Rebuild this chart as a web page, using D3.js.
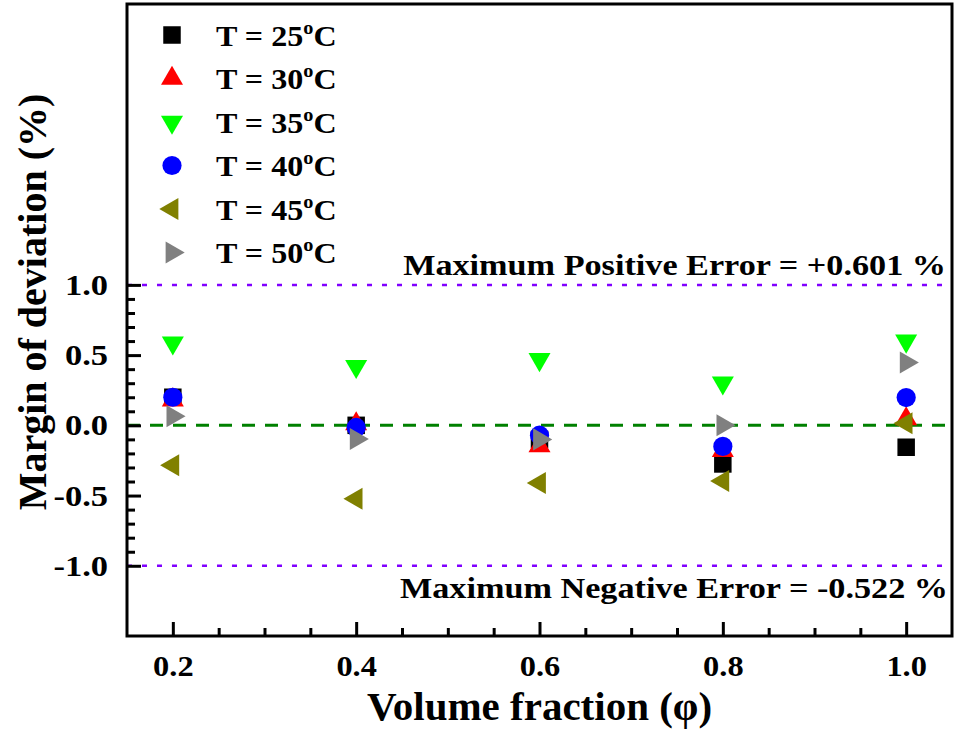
<!DOCTYPE html>
<html>
<head>
<meta charset="utf-8">
<script src="https://cdn.jsdelivr.net/npm/d3@7"></script>
<style>
  html, body { margin: 0; padding: 0; background: #ffffff; }
  svg { display: block; }
  text { font-family: "Liberation Serif", "Times New Roman", serif; font-weight: bold; fill: #000; }
</style>
</head>
<body>
<svg id="chart" width="955" height="734"></svg>
<script>
// Volume fraction on the x axis
const volumeFraction = [0.2, 0.4, 0.6, 0.8, 1.0];

// Margin of deviation (%) at each temperature
const dev25 = [0.20, 0.00, -0.10, -0.275, -0.156];
const dev30 = [0.18, 0.01, -0.147, -0.18, 0.045];
const dev35 = [0.588, 0.42, 0.469, 0.303, 0.601];
const dev40 = [0.20, -0.015, -0.07, -0.15, 0.198];
const dev45 = [-0.285, -0.522, -0.41, -0.396, 0.015];
const dev50 = [0.064, -0.097, -0.10, 0.0, 0.447];

const seriesLabels = ["25", "30", "35", "40", "45", "50"];
const seriesValues = [dev25, dev30, dev35, dev40, dev45, dev50];
const seriesColors = ["#000000", "#ff0000", "#00ff00", "#0000ff", "#808000", "#808080"];
const seriesShapes = ["square", "up", "down", "circle", "left", "right"];

const xTickValues = [0.2, 0.4, 0.6, 0.8, 1.0];
const xMinorTicks = [0.25, 0.3, 0.35, 0.45, 0.5, 0.55, 0.65, 0.7, 0.75, 0.85, 0.9, 0.95];
const yTickValues = [-1.0, -0.5, 0.0, 0.5, 1.0];
const yMinorTicks = [-0.9, -0.8, -0.7, -0.6, -0.4, -0.3, -0.2, -0.1, 0.1, 0.2, 0.3, 0.4, 0.6, 0.7, 0.8, 0.9];

const maxPositiveError = 0.601;
const maxNegativeError = -0.522;

const svg = d3.select("#chart");
const plot = { left: 127, right: 952, top: 4, bottom: 636 };

// wide-set lettering for labels
const wide = 1.14;

const x = d3.scaleLinear().domain([0.15, 1.05]).range([plot.left, plot.right]);
const y = d3.scaleLinear().domain([-1.5, 3.0]).range([plot.bottom, plot.top]);

// reference lines: error bounds and zero
[1.0, -1.0].forEach(v => {
  svg.append("line")
    .attr("x1", plot.left).attr("x2", plot.right)
    .attr("y1", y(v)).attr("y2", y(v))
    .attr("stroke", "#8000ff").attr("stroke-width", 2.5).attr("stroke-dasharray", "5,10");
});
svg.append("line")
  .attr("x1", plot.left).attr("x2", plot.right)
  .attr("y1", y(0)).attr("y2", y(0))
  .attr("stroke", "#008000").attr("stroke-width", 3).attr("stroke-dasharray", "13,10");

// marker shapes
function symbolPath(shape) {
  if (shape === "square") return d3.symbol(d3.symbolSquare, 17.5 * 17.5)();
  if (shape === "circle") return d3.symbol(d3.symbolCircle, Math.PI * 9.6 * 9.6)();
  return d3.symbol(d3.symbolTriangle, 210)();
}
function symbolRotate(shape) {
  return { up: 0, down: 180, left: -90, right: 90 }[shape] || 0;
}

// data markers
seriesValues.forEach((vals, i) => {
  svg.append("g")
    .selectAll("path")
    .data(vals.map((v, j) => ({ xv: volumeFraction[j], yv: v })))
    .join("path")
    .attr("d", symbolPath(seriesShapes[i]))
    .attr("transform", d => `translate(${x(d.xv)},${y(d.yv)}) rotate(${symbolRotate(seriesShapes[i])})`)
    .attr("fill", seriesColors[i]);
});

// axes with inward ticks
const axisStyle = g => {
  g.select(".domain").remove();
  g.selectAll(".tick line").attr("stroke", "#000").attr("stroke-width", 3);
  g.selectAll("text").attr("font-size", 30).attr("font-family", "Liberation Serif, serif").attr("font-weight", "bold");
};

svg.append("g")
  .attr("transform", `translate(0,${plot.bottom})`)
  .call(d3.axisBottom(x).tickValues(xMinorTicks).tickSize(-8).tickFormat(""))
  .call(axisStyle);
svg.append("g")
  .attr("transform", `translate(0,${plot.bottom})`)
  .call(d3.axisBottom(x).tickValues(xTickValues).tickSize(-14).tickPadding(19)
    .tickFormat(d3.format(".1f")))
  .call(axisStyle)
  .call(g => g.selectAll(".tick text").attr("transform", "scale(1.08,1)"));

svg.append("g")
  .attr("transform", `translate(${plot.left},0)`)
  .call(d3.axisLeft(y).tickValues(yMinorTicks).tickSize(-8).tickFormat(""))
  .call(axisStyle);
svg.append("g")
  .attr("transform", `translate(${plot.left},0)`)
  .call(d3.axisLeft(y).tickValues(yTickValues).tickSize(-14).tickPadding(19)
    .tickFormat(d => d3.format(".1f")(d).replace("\u2212", "-")))
  .call(axisStyle)
  .call(g => g.selectAll(".tick text")
    .attr("x", -19 / 1.15)
    .attr("transform", "scale(1.15,1)"));

// frame
svg.append("rect")
  .attr("x", plot.left).attr("y", plot.top)
  .attr("width", plot.right - plot.left).attr("height", plot.bottom - plot.top)
  .attr("fill", "none").attr("stroke", "#000").attr("stroke-width", 3);

// axis titles
svg.append("text")
  .attr("x", (plot.left + plot.right) / 2).attr("y", 720)
  .attr("text-anchor", "middle").attr("font-size", 41)
  .text("Volume fraction (\u03c6)");
svg.append("text")
  .attr("transform", "translate(46,302) rotate(-90)")
  .attr("text-anchor", "middle").attr("font-size", 40)
  .text("Margin of deviation (%)");

// error annotations
svg.append("text")
  .attr("transform", `translate(946,275) scale(${wide},1)`)
  .attr("text-anchor", "end").attr("font-size", 30)
  .text(`Maximum Positive Error = +${maxPositiveError.toFixed(3)} %`);
svg.append("text")
  .attr("transform", `translate(948,598) scale(${wide},1)`)
  .attr("text-anchor", "end").attr("font-size", 30)
  .text(`Maximum Negative Error = ${maxNegativeError.toFixed(3)} %`);

// legend
const legend = svg.append("g");
seriesLabels.forEach((lab, i) => {
  const ly = 35 + i * 43.5;
  legend.append("path")
    .attr("d", symbolPath(seriesShapes[i]))
    .attr("transform", `translate(172,${ly}) rotate(${symbolRotate(seriesShapes[i])})`)
    .attr("fill", seriesColors[i]);
  const t = legend.append("text")
    .attr("transform", `translate(216,${ly + 10.5}) scale(1.07,1)`)
    .attr("font-size", 30);
  t.append("tspan").text(`T = ${lab}`);
  t.append("tspan").attr("font-size", 19).attr("dy", -12).text("o");
  t.append("tspan").attr("dy", 12).text("C");
});
</script>
</body>
</html>
